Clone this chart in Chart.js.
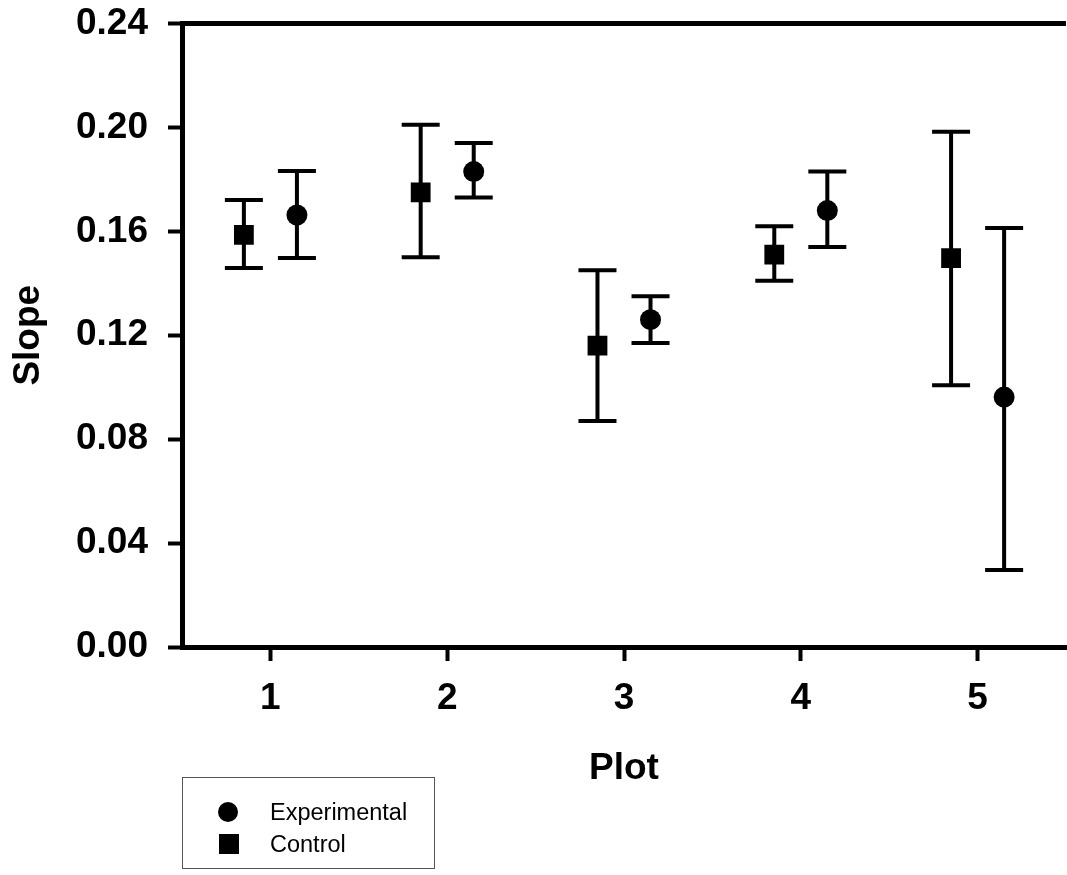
<!DOCTYPE html>
<html>
<head>
<meta charset="utf-8">
<script src="https://cdn.jsdelivr.net/npm/chart.js@4/dist/chart.umd.min.js"></script>
<style>
  html, body { margin: 0; padding: 0; background: #fff; overflow: hidden; width: 1067px; height: 875px; }
  #wrap { position: absolute; left: 0; top: 0; width: 1080px; height: 875px; }
  #legend { position: absolute; left: 182px; top: 777px; width: 253px; height: 92px; border: 1px solid #555; box-sizing: border-box; font-family: "Liberation Sans", Arial, sans-serif; font-size: 23.5px; color: #000; }
  .item { position: absolute; left: 87px; height: 30px; line-height: 30px; }
  .sym { position: absolute; background: #000; }
</style>
</head>
<body>
<div id="wrap"><canvas id="c"></canvas></div>
<div id="legend">
  <div class="sym" style="left:35px; top:24px; width:20px; height:20px; border-radius:50%;"></div>
  <div class="item" style="top:19px;">Experimental</div>
  <div class="sym" style="left:36px; top:56px; width:20px; height:20px;"></div>
  <div class="item" style="top:51px;">Control</div>
</div>
<script>
// ---- data ----
const plots = [1, 2, 3, 4, 5];
const xTickLabels = ['1', '2', '3', '4', '5'];
const yTickValues = [0, 0.04, 0.08, 0.12, 0.16, 0.20, 0.24];

const controlMean  = [0.1586, 0.175, 0.116, 0.151, 0.1497];
const controlHigh  = [0.1721, 0.201, 0.145, 0.162, 0.1983];
const controlLow   = [0.1459, 0.150, 0.087, 0.141, 0.1008];

const expMean      = [0.1663, 0.183, 0.126, 0.168, 0.0962];
const expHigh      = [0.1832, 0.194, 0.135, 0.183, 0.1613];
const expLow       = [0.1497, 0.173, 0.117, 0.154, 0.0296];

const groupOffset = 0.15;

const controlPts = plots.map((p, i) => ({ x: p - groupOffset, y: controlMean[i], hi: controlHigh[i], lo: controlLow[i] }));
const expPts = plots.map((p, i) => ({ x: p + groupOffset, y: expMean[i], hi: expHigh[i], lo: expLow[i] }));

const FONT = '"Liberation Sans", Arial, sans-serif';

const errorBars = {
  id: 'errorBars',
  beforeDatasetsDraw(chart) {
    const { ctx, scales: { x, y } } = chart;
    ctx.save();
    ctx.strokeStyle = '#000';
    ctx.lineWidth = 4;
    ctx.lineCap = 'butt';
    const cap = 19;
    chart.data.datasets.forEach(ds => {
      ds.data.forEach(pt => {
        const px = x.getPixelForValue(pt.x);
        const pHi = y.getPixelForValue(pt.hi);
        const pLo = y.getPixelForValue(pt.lo);
        ctx.beginPath();
        ctx.moveTo(px, pHi); ctx.lineTo(px, pLo);
        ctx.moveTo(px - cap, pHi); ctx.lineTo(px + cap, pHi);
        ctx.moveTo(px - cap, pLo); ctx.lineTo(px + cap, pLo);
        ctx.stroke();
      });
    });
    ctx.restore();
  }
};

new Chart(document.getElementById('c'), {
  type: 'scatter',
  data: {
    datasets: [
      { label: 'Experimental', data: expPts, pointStyle: 'circle', pointRadius: 10.5, backgroundColor: '#000', borderColor: '#000', borderWidth: 0, pointHoverRadius: 10.5 },
      { label: 'Control', data: controlPts, pointStyle: 'rect', pointRadius: 14, backgroundColor: '#000', borderColor: '#000', borderWidth: 0, pointHoverRadius: 14 }
    ]
  },
  options: {
    responsive: true,
    maintainAspectRatio: false,
    devicePixelRatio: 1,
    animation: false,
    layout: { padding: { left: 0, top: 23.5, right: 9, bottom: 0 } },
    plugins: { legend: { display: false }, tooltip: { enabled: false } },
    scales: {
      x: {
        type: 'linear',
        min: 0.5,
        max: 5.5,
        afterBuildTicks: s => { s.ticks = plots.map(v => ({ value: v })); },
        afterFit: s => { s.height = 228; s.paddingLeft = 0; s.paddingRight = 0; },
        ticks: {
          callback: (v) => xTickLabels[plots.indexOf(v)],
          font: { family: FONT, size: 37, weight: 'bold' },
          color: '#000',
          padding: 16,
          maxRotation: 0
        },
        grid: { drawOnChartArea: false, drawTicks: true, tickLength: 14, tickWidth: 4, tickColor: '#000' },
        border: { display: true, width: 5, color: '#000' },
        title: { display: true, text: 'Plot', font: { family: FONT, size: 37, weight: 'bold' }, color: '#000', padding: { top: 0, bottom: 84 } }
      },
      y: {
        min: 0,
        max: 0.24,
        afterBuildTicks: s => { s.ticks = yTickValues.map(v => ({ value: v })); },
        afterFit: s => { s.width = 182; s.paddingTop = 0; s.paddingBottom = 0; },
        ticks: {
          callback: v => v.toFixed(2),
          font: { family: FONT, size: 37, weight: 'bold' },
          color: '#000',
          padding: 20
        },
        grid: {
          drawOnChartArea: true,
          drawTicks: true,
          tickLength: 14,
          tickWidth: 4,
          tickColor: '#000',
          lineWidth: 5,
          color: c => (c.tick && Math.abs(c.tick.value - 0.24) < 1e-9) ? '#000' : 'rgba(0,0,0,0)'
        },
        border: { display: true, width: 5, color: '#000' },
        title: { display: true, text: 'Slope', font: { family: FONT, size: 37, weight: 'bold' }, color: '#000', padding: { top: 7, bottom: 0 } }
      }
    }
  },
  plugins: [errorBars]
});
</script>
</body>
</html>
